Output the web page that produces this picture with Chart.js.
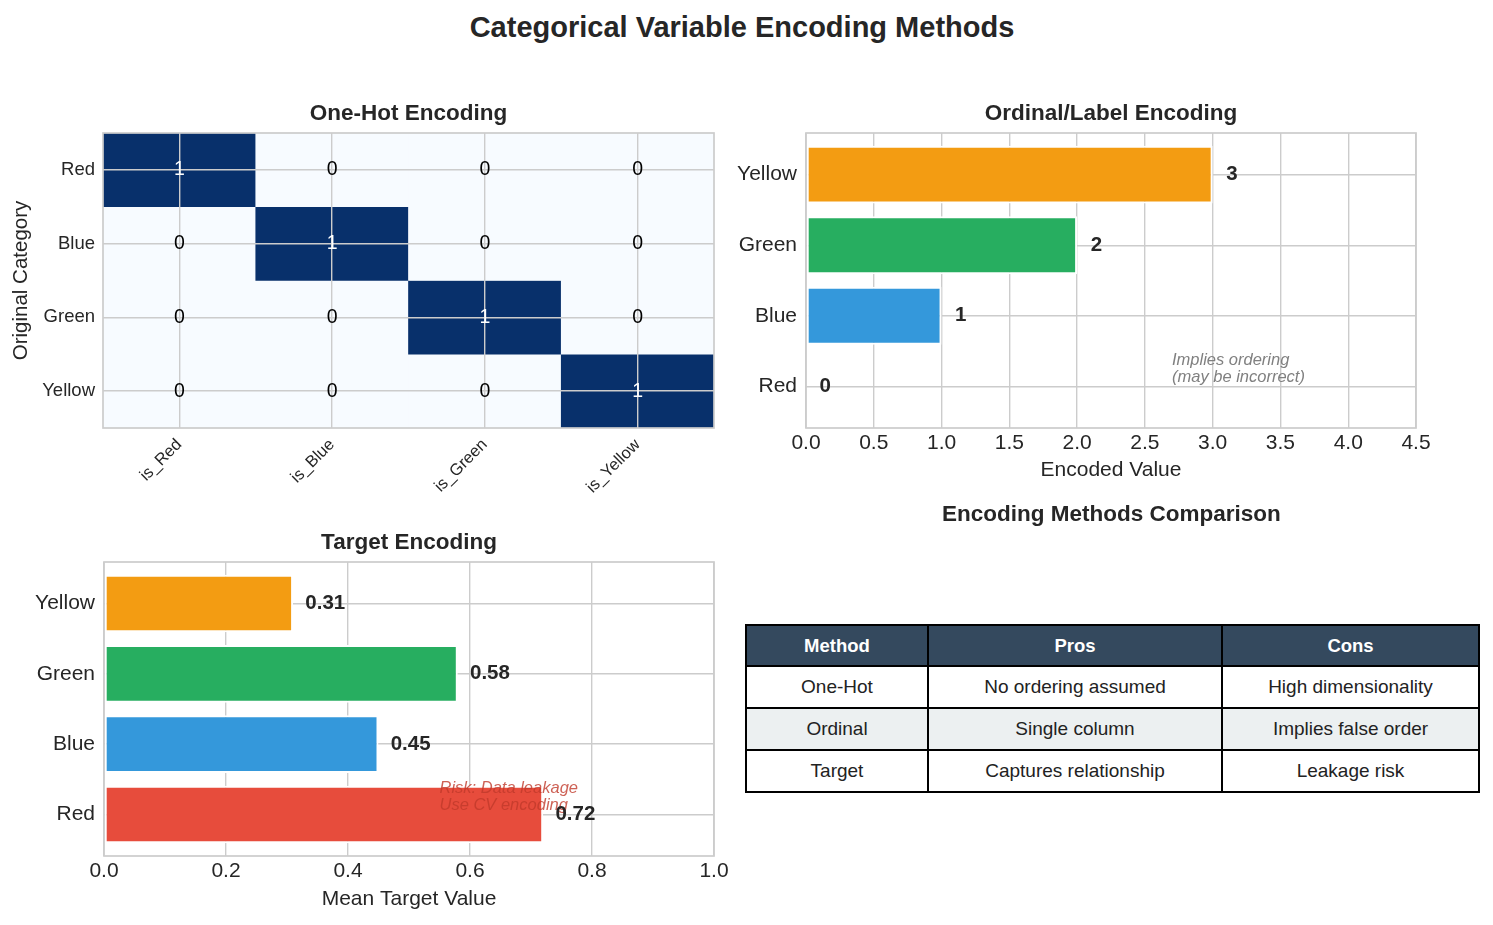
<!DOCTYPE html>
<html>
<head>
<meta charset="utf-8">
<title>Categorical Variable Encoding Methods</title>
<script src="https://cdn.jsdelivr.net/npm/chart.js@4.4.1/dist/chart.umd.min.js"></script>
<style>
  body { margin: 0; background: #fff; font-family: "Liberation Sans", Arial, sans-serif; color: #262626; }
  #page { position: relative; width: 1493px; height: 925px; overflow: hidden; }
  canvas { position: absolute; }
  #suptitle { position: absolute; left: 0; width: 1484px; top: 9px; line-height: 36px; text-align: center; font-weight: bold; font-size: 29px; }
  #tableTitle { position: absolute; left: 745px; width: 733px; top: 501px; line-height: 26px; text-align: center; font-weight: bold; font-size: 22.5px; }
  #methods { position: absolute; left: 745px; top: 624px; width: 733px; border-collapse: collapse; table-layout: fixed; font-size: 19px; color: #222; }
  #methods td, #methods th { border: 2px solid #000; text-align: center; padding: 0; }
  #methods th { background: #34495e; color: #fff; font-size: 18.5px; height: 39px; }
  #methods td { height: 40px; }
  #methods tr.alt td { background: #ecf0f1; }
</style>
</head>
<body>
<div id="page">
  <div id="suptitle">Categorical Variable Encoding Methods</div>
  <canvas id="oneHotChart" width="740" height="425" style="left:0;top:90px"></canvas>
  <canvas id="ordinalChart" width="768" height="400" style="left:725px;top:90px"></canvas>
  <canvas id="targetChart" width="740" height="400" style="left:0;top:520px"></canvas>
  <div id="tableTitle">Encoding Methods Comparison</div>
  <table id="methods">
    <colgroup><col style="width:182px"><col style="width:294px"><col style="width:257px"></colgroup>
    <thead><tr id="methodsHead"></tr></thead>
    <tbody id="methodsBody"></tbody>
  </table>
</div>
<script>
// data
const categories = ['Red', 'Blue', 'Green', 'Yellow'];
const oneHotColumns = ['is_Red', 'is_Blue', 'is_Green', 'is_Yellow'];
const oneHotRows = [
  [1, 0, 0, 0],
  [0, 1, 0, 0],
  [0, 0, 1, 0],
  [0, 0, 0, 1]
];
const ordinalValues = [0, 1, 2, 3];
const targetValues = [0.72, 0.45, 0.58, 0.31];
const categoryColors = ['#e74c3c', '#3498db', '#27ae60', '#f39c12'];
const ordinalNote = ['Implies ordering', '(may be incorrect)'];
const targetNote = ['Risk: Data leakage', 'Use CV encoding'];
const tableHeader = ['Method', 'Pros', 'Cons'];
const tableRows = [
  ['One-Hot', 'No ordering assumed', 'High dimensionality'],
  ['Ordinal', 'Single column', 'Implies false order'],
  ['Target', 'Captures relationship', 'Leakage risk']
];

const fontFamily = '"Liberation Sans", Arial, sans-serif';
const gridColor = '#cccccc';
const textColor = '#262626';
Chart.defaults.font.family = fontFamily;
Chart.defaults.color = textColor;

// table
document.getElementById('methodsHead').innerHTML = tableHeader.map(h => `<th>${h}</th>`).join('');
document.getElementById('methodsBody').innerHTML = tableRows
  .map((row, i) => `<tr class="${i === 1 ? 'alt' : ''}">${row.map(c => `<td>${c}</td>`).join('')}</tr>`)
  .join('');

const fixedWidth = w => scale => { scale.width = w; };
const fixedHeight = h => scale => { scale.height = h; };
const categoryTicks = scale => { scale.ticks = categories.map((c, i) => ({ value: i })); };

// frame round the plot area + bold title above it
const frameAndTitle = title => ({
  id: 'frameAndTitle',
  afterDraw(chart) {
    const { ctx, chartArea: a } = chart;
    ctx.save();
    ctx.strokeStyle = gridColor;
    ctx.lineWidth = 1.7;
    ctx.strokeRect(a.left, a.top, a.right - a.left, a.bottom - a.top);
    ctx.fillStyle = textColor;
    ctx.font = `bold 22.5px ${fontFamily}`;
    ctx.textAlign = 'center';
    ctx.textBaseline = 'middle';
    ctx.fillText(title, (a.left + a.right) / 2, a.top - 19);
    ctx.restore();
  }
});

const oneHotText = {
  id: 'oneHotText',
  afterDraw(chart) {
    const { ctx, scales: { x, y } } = chart;
    ctx.save();
    ctx.font = `19.5px ${fontFamily}`;
    ctx.textAlign = 'center';
    ctx.textBaseline = 'middle';
    oneHotRows.forEach((row, r) => {
      row.forEach((v, c) => {
        ctx.fillStyle = v ? '#ffffff' : '#000000';
        ctx.fillText(String(v), x.getPixelForValue(c), y.getPixelForValue(r));
      });
    });
    ctx.restore();
  }
};

const barLabels = (values, offset, decimals, note, noteX, noteColor) => ({
  id: 'barLabels',
  afterDatasetsDraw(chart) {
    const { ctx, scales: { x, y } } = chart;
    ctx.save();
    ctx.textAlign = 'left';
    ctx.textBaseline = 'middle';
    ctx.font = `italic 16.5px ${fontFamily}`;
    ctx.fillStyle = noteColor;
    const nx = x.getPixelForValue(noteX);
    const ny = y.getPixelForValue(0);
    note.forEach((line, k) => {
      ctx.fillText(line, nx, ny - 9 - (note.length - 1 - k) * 17);
    });
    ctx.font = `bold 20.5px ${fontFamily}`;
    ctx.fillStyle = textColor;
    values.forEach((v, i) => {
      ctx.fillText(v.toFixed(decimals), x.getPixelForValue(v + offset), y.getPixelForValue(i));
    });
    ctx.restore();
  }
});

const gridOpts = { color: gridColor, lineWidth: 1.4, drawTicks: false, offset: false };

new Chart(document.getElementById('oneHotChart'), {
  type: 'bar',
  data: {
    labels: oneHotColumns,
    datasets: oneHotRows.map((row, r) => ({
      data: row.map(() => [r - 0.5, r + 0.5]),
      backgroundColor: row.map(v => (v ? '#08306b' : '#f7fbff')),
      grouped: false,
      barPercentage: 1,
      categoryPercentage: 1,
      borderWidth: 0
    }))
  },
  options: {
    responsive: false,
    animation: false,
    layout: { padding: { top: 43, right: 26, left: 0, bottom: 0 } },
    plugins: { legend: { display: false }, tooltip: { enabled: false } },
    scales: {
      x: {
        grid: { ...gridOpts, z: 1 },
        border: { display: false },
        ticks: { minRotation: 45, maxRotation: 45, padding: 7, font: { size: 16.5 } },
        afterFit: fixedHeight(87)
      },
      y: {
        min: -0.5,
        max: 3.5,
        reverse: true,
        afterBuildTicks: categoryTicks,
        grid: { ...gridOpts, z: 1 },
        border: { display: false },
        ticks: { callback: v => categories[v], padding: 8, font: { size: 18.5 } },
        title: { display: true, text: 'Original Category', font: { size: 20.5 }, padding: { top: 9.5, bottom: 0 } },
        afterFit: fixedWidth(103)
      }
    }
  },
  plugins: [frameAndTitle('One-Hot Encoding'), oneHotText]
});

const hbarOptions = (xMax, xStep, xTitle, yWidth, padTop, padRight, xHeight, titlePad) => ({
  indexAxis: 'y',
  responsive: false,
  animation: false,
  layout: { padding: { top: padTop, right: padRight, left: 0, bottom: 0 } },
  plugins: { legend: { display: false }, tooltip: { enabled: false } },
  scales: {
    x: {
      type: 'linear',
      min: 0,
      max: xMax,
      grid: gridOpts,
      border: { display: false },
      ticks: { stepSize: xStep, padding: 3, font: { size: 21 }, callback: v => v.toFixed(1) },
      title: { display: true, text: xTitle, font: { size: 21 }, padding: { top: 0, bottom: titlePad } },
      afterFit: fixedHeight(xHeight)
    },
    y: {
      type: 'linear',
      min: -0.59,
      max: 3.59,
      offset: false,
      afterBuildTicks: categoryTicks,
      grid: gridOpts,
      border: { display: false },
      ticks: { callback: v => categories[v], padding: 9, font: { size: 21 } },
      afterFit: fixedWidth(yWidth)
    }
  }
});

const hbarDataset = values => ({
  data: values.map((v, i) => ({ x: v, y: i })),
  backgroundColor: categoryColors,
  borderColor: '#ffffff',
  borderWidth: 2,
  borderSkipped: false,
  barPercentage: 0.82,
  categoryPercentage: 1
});

new Chart(document.getElementById('ordinalChart'), {
  type: 'bar',
  data: { datasets: [hbarDataset(ordinalValues)] },
  options: hbarOptions(4.5, 0.5, 'Encoded Value', 81, 43, 77, 62, 7.4),
  plugins: [frameAndTitle('Ordinal/Label Encoding'), barLabels(ordinalValues, 0.1, 0, ordinalNote, 2.7, '#808080')]
});

new Chart(document.getElementById('targetChart'), {
  type: 'bar',
  data: { datasets: [hbarDataset(targetValues)] },
  options: hbarOptions(1, 0.2, 'Mean Target Value', 104, 42, 26, 64, 8.4),
  plugins: [frameAndTitle('Target Encoding'), barLabels(targetValues, 0.02, 2, targetNote, 0.55, 'rgba(192,57,43,0.8)')]
});
</script>
</body>
</html>
